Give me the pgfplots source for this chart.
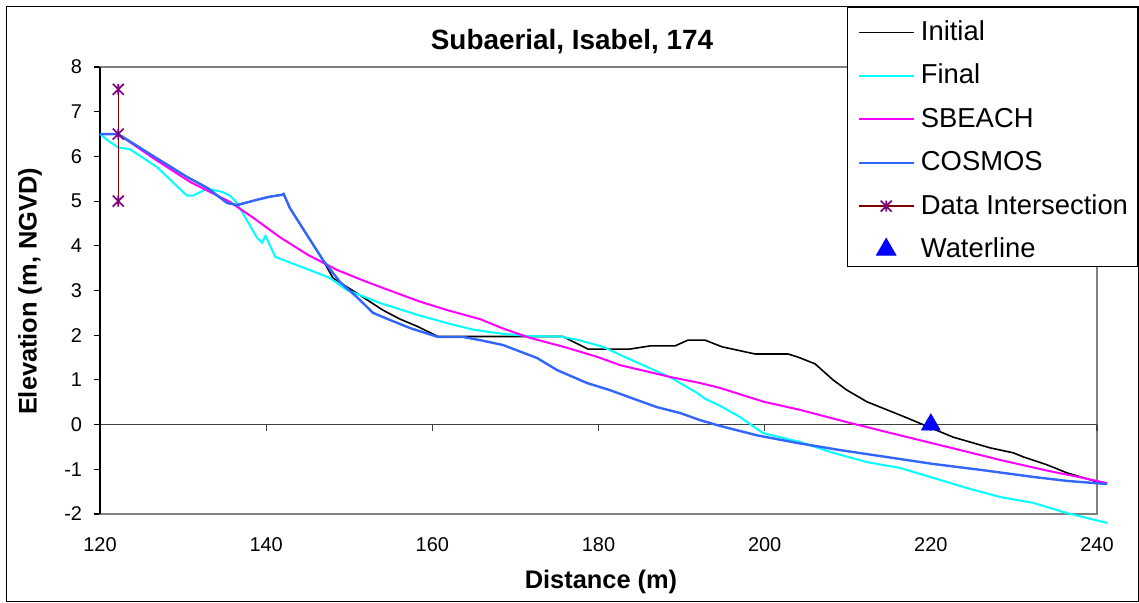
\documentclass[border=0pt]{standalone}
\usepackage{fontspec}
\setmainfont{Liberation Sans}
\usepackage{pgfplots}
\pgfplotsset{compat=1.18}
\definecolor{cGrid}{HTML}{808080}
\definecolor{cZero}{HTML}{404040}
\definecolor{cFinal}{HTML}{00FFFF}
\definecolor{cSB}{HTML}{FF00FF}
\definecolor{cCos}{HTML}{3366FF}
\definecolor{cMaroon}{HTML}{800000}
\definecolor{cPurple}{HTML}{800080}
\definecolor{cWater}{HTML}{0000FF}
\pgfdeclareplotmark{excelstar}{%
  \pgfpathmoveto{\pgfqpoint{-\pgfplotmarksize}{-\pgfplotmarksize}}%
  \pgfpathlineto{\pgfqpoint{\pgfplotmarksize}{\pgfplotmarksize}}%
  \pgfpathmoveto{\pgfqpoint{-\pgfplotmarksize}{\pgfplotmarksize}}%
  \pgfpathlineto{\pgfqpoint{\pgfplotmarksize}{-\pgfplotmarksize}}%
  \pgfpathmoveto{\pgfqpoint{0pt}{-\pgfplotmarksize}}%
  \pgfpathlineto{\pgfqpoint{0pt}{\pgfplotmarksize}}%
  \pgfusepathqstroke}
\begin{document}
\begin{tikzpicture}
\path[use as bounding box] (0,0) rectangle (1139bp,603bp);
\draw[black,line width=1.3bp] (6.7bp,1.3bp) rectangle (1138.2bp,596.3bp);
\begin{axis}[
  at={(100bp,89bp)}, anchor=south west,
  scale only axis, width=997bp, height=447bp,
  xmin=120, xmax=240, ymin=-2, ymax=8,
  clip=false,
  axis line style={draw=cGrid, line width=1.3bp},
  xtick={120,140,...,240},
  ytick={-2,-1,...,8},
  xtick style={draw=none},
  ytick pos=left,
  tick align=outside,
  major tick length=6bp,
  ytick style={draw=black, line width=1.1bp},
  tick label style={font=\fontsize{20}{24}\selectfont},
  /pgf/number format/assume math mode=true,
  xticklabel style={yshift=-14.3bp},
  yticklabel style={xshift=-8.5bp},
  title={Subaerial, Isabel, 174},
  title style={font=\bfseries\fontsize{28}{34}\selectfont, at={(axis description cs:0.4734,1.0268)}, anchor=base, yshift=0pt},
  xlabel={Distance (m)},
  xlabel style={font=\bfseries\fontsize{25.5}{30}\selectfont, at={(axis description cs:0.5025,-0.1662)}, anchor=base},
  ylabel={Elevation (m, NGVD)},
  ylabel style={font=\bfseries\fontsize{25.5}{30}\selectfont, at={(axis description cs:-0.0635,0.4978)}, anchor=base},
  legend style={at={(axis description cs:0.7492,1.1342)}, anchor=north west, draw=black, line width=1.1bp, fill=white,
    font=\fontsize{27.5}{33}\selectfont, inner xsep=10bp, inner ysep=4bp, row sep=9.4bp, column sep=6bp,
    nodes={inner sep=0pt, text height=29bp, text depth=5bp}, cells={anchor=base west}},
  legend image code/.code={\draw[mark repeat=2,mark phase=2,#1] plot coordinates {(0bp,8bp) (27.5bp,8bp) (55bp,8bp)};},
]
\draw[cZero, line width=1.2bp] (axis cs:120,0) -- (axis cs:240,0);
\draw[cZero, line width=1.1bp] (axis cs:140,0) -- (axis cs:140,-0.134);
\draw[cZero, line width=1.1bp] (axis cs:160,0) -- (axis cs:160,-0.134);
\draw[cZero, line width=1.1bp] (axis cs:180,0) -- (axis cs:180,-0.134);
\draw[cZero, line width=1.1bp] (axis cs:200,0) -- (axis cs:200,-0.134);
\draw[cZero, line width=1.1bp] (axis cs:220,0) -- (axis cs:220,-0.134);
\draw[cZero, line width=1.1bp] (axis cs:240,0) -- (axis cs:240,-0.134);
\draw[black, line width=1.3bp] (axis cs:120,-2) -- (axis cs:120,8);

% Initial
\addplot[color=black, line width=1.6bp] coordinates {
(120,6.5) (122.17,6.5) (126.3,6.02) (130.47,5.54) (132.88,5.3) (135.29,4.96) (136.49,4.91)
(138.9,5.03) (140.46,5.1) (141.91,5.14) (142.1,5.16) (142.87,4.84) (144.92,4.24) (146.84,3.68)
(148.04,3.28) (149.73,3.08) (151.66,2.85) (154.06,2.56) (156.11,2.36) (158.16,2.2) (160.68,1.97)
(175.73,1.97) (178.74,1.69) (183.79,1.69) (186.2,1.76) (189.21,1.76) (190.77,1.89) (192.82,1.89)
(194.87,1.74) (198.84,1.58) (202.81,1.58) (204.01,1.51) (206.06,1.36) (208.23,1.0) (209.91,0.77)
(212.32,0.51) (214.73,0.33) (217.13,0.15) (219.06,0.0) (222.67,-0.28) (224.36,-0.37) (227.13,-0.52)
(229.89,-0.63) (231.1,-0.72) (233.99,-0.9) (236.39,-1.08) (240,-1.28) (241.21,-1.33)};
\addlegendentry{Initial}

% Final
\addplot[color=cFinal, line width=2bp] coordinates {
(120,6.5) (121,6.35) (122.17,6.2) (123.61,6.16) (126.86,5.76) (130.47,5.12) (131.19,5.12)
(132.88,5.28) (134.8,5.2) (135.65,5.12) (136.4,4.98) (137.69,4.57) (138.9,4.18) (139.5,4.07)
(139.92,4.22) (141.1,3.75) (144.92,3.48) (147.68,3.28) (149.73,3.01) (153.7,2.72) (158.3,2.45)
(161.77,2.27) (165,2.12) (168.51,2.03) (171.76,1.98) (175.37,1.97) (177.41,1.9) (180.54,1.74)
(183.43,1.49) (185.84,1.29) (188.61,1.06) (191.86,0.71) (192.8,0.58) (194.63,0.42) (197.03,0.17)
(199.8,-0.19) (204.25,-0.39) (208.23,-0.63) (212.32,-0.84) (216.29,-0.97) (220.26,-1.19)
(224.36,-1.42) (228.33,-1.62) (232.3,-1.75) (236.39,-1.98) (241.21,-2.2)};
\addlegendentry{Final}

% SBEACH
\addplot[color=cSB, line width=2bp] coordinates {
(122.17,6.5) (126.5,5.95) (130.83,5.43) (135.65,4.98) (138.5,4.62) (141.67,4.19) (145,3.8)
(148.53,3.46) (152,3.2) (155.75,2.94) (158.52,2.75) (162,2.55) (165.74,2.36) (168.5,2.15)
(171.76,1.94) (176,1.73) (179.94,1.51) (182.59,1.33) (184.64,1.24) (189,1.05) (192.22,0.93)
(194.63,0.82) (197,0.68) (199.92,0.51) (204.25,0.33) (210,0.05) (216.29,-0.24) (222,-0.5)
(228.33,-0.79) (234,-1.03) (238,-1.18) (241.21,-1.31)};
\addlegendentry{SBEACH}

% COSMOS
\addplot[color=cCos, line width=2.4bp] coordinates {
(120,6.5) (122.17,6.5) (126.3,6.02) (130.47,5.54) (132.88,5.3) (135.29,4.96) (136.49,4.91)
(138.9,5.03) (140.46,5.1) (141.91,5.14) (142.1,5.16) (142.87,4.84) (144.92,4.24) (146.84,3.68)
(148.89,3.19) (150.93,2.85) (152.86,2.5) (154.91,2.34) (157.31,2.16) (160.68,1.96) (163.69,1.96)
(165.74,1.89) (168.51,1.78) (172.6,1.49) (175.01,1.22) (178.62,0.93) (181.39,0.77) (184.64,0.55)
(187.04,0.39) (189.81,0.26) (192.22,0.1) (194.63,-0.03) (199.08,-0.24) (203.89,-0.41)
(209.07,-0.57) (213.04,-0.68) (220.26,-0.88) (226.28,-1.02) (232.3,-1.17) (236.39,-1.26)
(241.21,-1.33)};
\addlegendentry{COSMOS}

% Data Intersection
\addplot[color=cMaroon, line width=1.5bp, mark=excelstar, mark size=5.5bp,
  mark options={draw=cPurple, line width=1.6bp, solid}] coordinates {
(122.2,7.5) (122.2,6.5) (122.2,5.0)};
\addlegendentry{Data Intersection}

% Waterline
\addplot[only marks, mark=triangle*, mark size=11bp, color=cWater,
  mark options={fill=cWater, draw=cWater}] coordinates {(220,0)};
\addlegendentry{Waterline}
\end{axis}
\end{tikzpicture}
\end{document}
